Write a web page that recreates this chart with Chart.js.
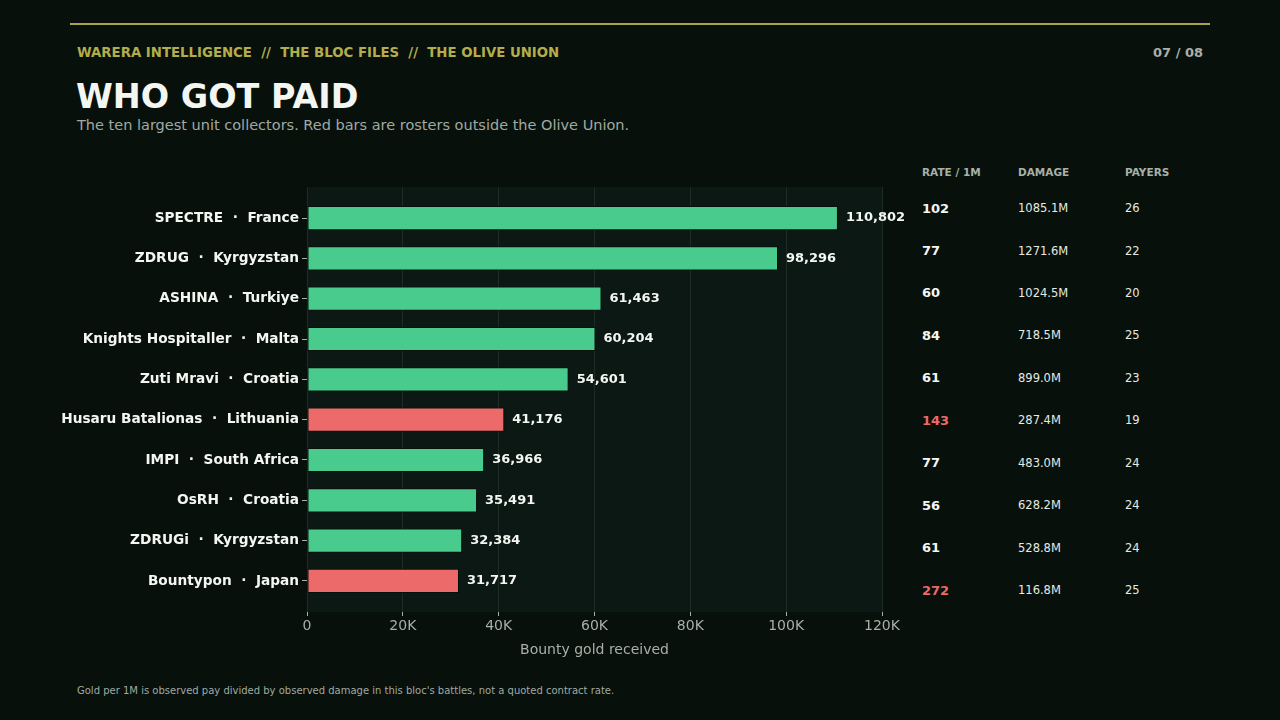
<!DOCTYPE html>
<html>
<head>
<meta charset="utf-8">
<script src="https://cdn.jsdelivr.net/npm/chart.js@4.4.1/dist/chart.umd.min.js"></script>
<style>
  html, body { margin: 0; padding: 0; background: #07100b; }
  body { width: 1280px; height: 720px; position: relative; overflow: hidden; font-family: "DejaVu Sans", sans-serif; }
  #chart { position: absolute; left: 0; top: 0; }
  .txt { position: absolute; white-space: pre; }
  #rule { position: absolute; left: 70px; top: 23px; width: 1140px; height: 2px; background: #a8a546; }
</style>
</head>
<body>
<div id="rule"></div>
<div class="txt" style="left:77px; top:46px; font-size:13.3px; line-height:13px; font-weight:bold; color:#b3ad4b;">WARERA INTELLIGENCE  //  THE BLOC FILES  //  THE OLIVE UNION</div>
<div class="txt" style="right:77px; top:46px; font-size:13px; line-height:13px; font-weight:bold; color:#a8b0a8;">07 / 08</div>
<div class="txt" style="left:76px; top:80px; font-size:33.4px; line-height:33px; font-weight:bold; color:#f4f6f2;">WHO GOT PAID</div>
<div class="txt" style="left:77px; top:118px; font-size:14.5px; line-height:15px; color:#a0aaa2;">The ten largest unit collectors. Red bars are rosters outside the Olive Union.</div>
<div class="txt" style="left:77px; top:686px; font-size:10px; line-height:10px; color:#a0aaa2;">Gold per 1M is observed pay divided by observed damage in this bloc's battles, not a quoted contract rate.</div>
<div id="table"></div>
<canvas id="chart" width="1280" height="720"></canvas>
<script>
const units = ['SPECTRE  ·  France', 'ZDRUG  ·  Kyrgyzstan', 'ASHINA  ·  Turkiye', 'Knights Hospitaller  ·  Malta',
  'Zuti Mravi  ·  Croatia', 'Husaru Batalionas  ·  Lithuania', 'IMPI  ·  South Africa', 'OsRH  ·  Croatia',
  'ZDRUGi  ·  Kyrgyzstan', 'Bountypon  ·  Japan'];
const gold = [110802, 98296, 61463, 60204, 54601, 41176, 36966, 35491, 32384, 31717];
const outside = [false, false, false, false, false, true, false, false, false, true];
const rates = [102, 77, 60, 84, 61, 143, 77, 56, 61, 272];
const damage = ['1085.1M', '1271.6M', '1024.5M', '718.5M', '899.0M', '287.4M', '483.0M', '628.2M', '528.8M', '116.8M'];
const payers = [26, 22, 20, 25, 23, 19, 24, 24, 24, 25];
const xTicks = [0, 20000, 40000, 60000, 80000, 100000, 120000];

const GREEN = '#48cb8d';
const RED = '#ec6a6a';
const GRAY = '#a8b0a8';

// side table
const table = document.getElementById('table');
function addText(x, y, text, size, weight, color) {
    const d = document.createElement('div');
    d.className = 'txt';
    d.style.left = x + 'px';
    d.style.top = (y - size / 2) + 'px';
    d.style.fontSize = size + 'px';
    d.style.lineHeight = size + 'px';
    d.style.fontWeight = weight;
    d.style.color = color;
    d.textContent = text;
    table.appendChild(d);
}
addText(922, 172, 'RATE / 1M', 10.5, 'bold', GRAY);
addText(1018, 172, 'DAMAGE', 10.5, 'bold', GRAY);
addText(1125, 172, 'PAYERS', 10.5, 'bold', GRAY);
rates.forEach((r, i) => {
    const y = 208 + i * 42.45;
    addText(922, y, String(r), 13, 'bold', outside[i] ? RED : '#f4f6f2');
    addText(1018, y + 0.8, damage[i], 11.5, 'normal', '#e6eae4');
    addText(1125, y + 0.8, String(payers[i]), 11.5, 'normal', '#e6eae4');
});

const plotBg = {
    id: 'plotBg',
    beforeDraw(chart) {
        const { ctx, chartArea: a } = chart;
        ctx.save();
        ctx.fillStyle = '#0c1813';
        ctx.fillRect(a.left, a.top, a.right - a.left, a.bottom - a.top);
        ctx.restore();
    }
};

const valueLabels = {
    id: 'valueLabels',
    afterDatasetsDraw(chart) {
        const { ctx } = chart;
        const meta = chart.getDatasetMeta(0);
        ctx.save();
        ctx.font = 'bold 13px "DejaVu Sans"';
        ctx.fillStyle = '#f4f6f2';
        ctx.textBaseline = 'middle';
        meta.data.forEach((bar, i) => {
            ctx.fillText(gold[i].toLocaleString('en-US'), bar.x + 8, bar.y);
        });
        ctx.restore();
    }
};

Chart.defaults.font.family = '"DejaVu Sans", sans-serif';

new Chart(document.getElementById('chart'), {
    type: 'bar',
    data: {
        datasets: [{
            data: gold.map((v, i) => ({ x: v, y: i })),
            backgroundColor: outside.map(o => o ? RED : GREEN),
            borderColor: '#07100b',
            borderWidth: 1,
            borderSkipped: false,
            categoryPercentage: 0.6,
            barPercentage: 1
        }]
    },
    options: {
        indexAxis: 'y',
        responsive: false,
        animation: false,
        layout: { padding: { left: 0, right: 398, top: 187, bottom: 48 } },
        plugins: { legend: { display: false }, tooltip: { enabled: false } },
        scales: {
            x: {
                type: 'linear',
                min: 0,
                max: 120000,
                afterBuildTicks: scale => { scale.ticks = xTicks.map(v => ({ value: v })); },
                afterFit: scale => { scale.height = 60; },
                border: { display: false },
                grid: { color: '#1f2b25', lineWidth: 1, tickColor: GRAY, tickLength: 4 },
                ticks: {
                    color: GRAY,
                    font: { size: 14 },
                    padding: 2,
                    callback: v => v === 0 ? '0' : (v / 1000) + 'K'
                },
                title: {
                    display: true,
                    text: 'Bounty gold received',
                    color: GRAY,
                    font: { size: 14 },
                    padding: { top: 13, bottom: 13 }
                }
            },
            y: {
                type: 'linear',
                reverse: true,
                offset: false,
                min: -0.77,
                max: 9.77,
                afterBuildTicks: scale => { scale.ticks = units.map((_, i) => ({ value: i })); },
                afterFit: scale => { scale.width = 307; },
                border: { display: false },
                grid: { offset: false, drawOnChartArea: false, tickColor: GRAY, tickLength: 5 },
                ticks: {
                    color: '#f4f6f2',
                    font: { size: 13.7, weight: 'bold' },
                    padding: 3,
                    callback: v => units[v]
                }
            }
        }
    },
    plugins: [plotBg, valueLabels]
});
</script>
</body>
</html>
